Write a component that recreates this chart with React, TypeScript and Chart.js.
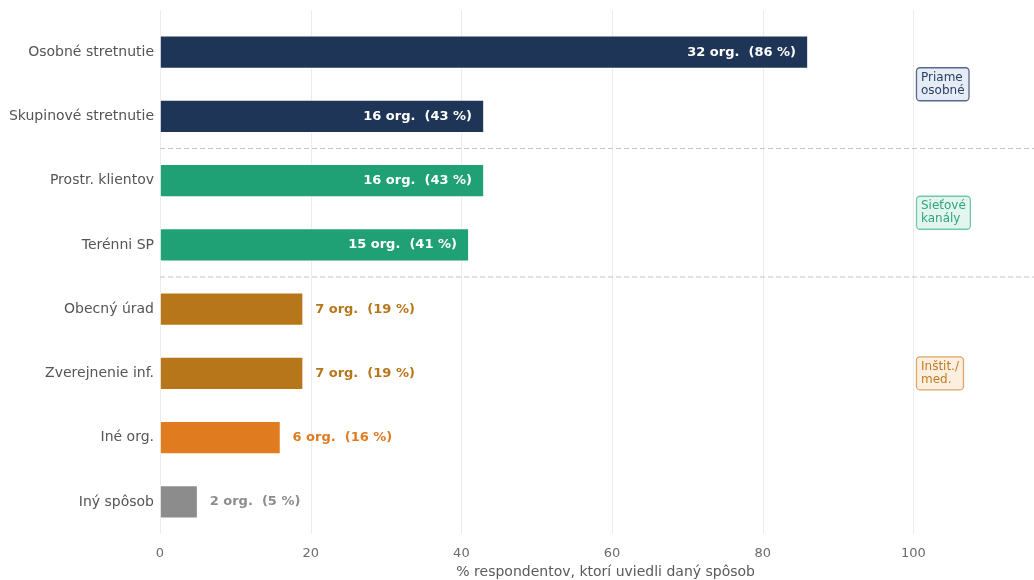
import React, { useEffect, useRef } from "react";
import { Chart, registerables } from "chart.js";

Chart.register(...registerables);

const categories = [
  "Osobné stretnutie",
  "Skupinové stretnutie",
  "Prostr. klientov",
  "Terénni SP",
  "Obecný úrad",
  "Zverejnenie inf.",
  "Iné org.",
  "Iný spôsob",
];
const percents = [86, 43, 43, 41, 19, 19, 16, 5];
const counts = [32, 16, 16, 15, 7, 7, 6, 2];
const barColors = ["#1f3557", "#1f3557", "#20a075", "#20a075", "#b8761a", "#b8761a", "#e07b20", "#8c8c8c"];
const insideLabel = [true, true, true, true, false, false, false, false];
const xTicks = [0, 20, 40, 60, 80, 100];
const xTitle = "% respondentov, ktorí uviedli daný spôsob";
const separatorsAfter = [1, 3];
const groups = [
  { lines: ["Priame", "osobné"], from: 0, to: 1, text: "#263f63", fill: "#e6ecf5", border: "#56688a" },
  { lines: ["Sieťové", "kanály"], from: 2, to: 3, text: "#2fa57b", fill: "#e2f5ee", border: "#72c9a8" },
  { lines: ["Inštit./", "med."], from: 4, to: 6, text: "#c07d22", fill: "#fcefdf", border: "#dca664" },
];

const FONT = "'DejaVu Sans', sans-serif";

export default function App() {
  const ref = useRef<HTMLCanvasElement | null>(null);
  useEffect(() => {
    document.body.style.margin = "0";
    const canvas = ref.current;
    if (!canvas) return;

    const overlay = {
      id: "overlay",
      beforeDatasetsDraw(chart: any) {
        const { ctx, chartArea, scales } = chart;
        const x = scales.x;
        const y = scales.y;
        ctx.save();
        ctx.strokeStyle = "#ececec";
        ctx.lineWidth = 1;
        xTicks.forEach((t) => {
          const px = Math.round(x.getPixelForValue(t)) + 0.5;
          ctx.beginPath();
          ctx.moveTo(px, chartArea.top - 10);
          ctx.lineTo(px, chartArea.bottom);
          ctx.stroke();
        });
        ctx.strokeStyle = "#c4c4c4";
        ctx.lineWidth = 1.2;
        ctx.setLineDash([5, 3]);
        separatorsAfter.forEach((i) => {
          const py = (y.getPixelForValue(i) + y.getPixelForValue(i + 1)) / 2;
          ctx.beginPath();
          ctx.moveTo(chartArea.left, py);
          ctx.lineTo(chart.width, py);
          ctx.stroke();
        });
        ctx.setLineDash([]);
        // x axis title, centred on the full (uncropped) axis span
        ctx.font = `14px ${FONT}`;
        ctx.fillStyle = "#5a5a5a";
        ctx.textAlign = "center";
        ctx.textBaseline = "middle";
        ctx.fillText(xTitle, (x.getPixelForValue(0) + x.getPixelForValue(118.3)) / 2, 572);
        ctx.restore();
      },
      afterDatasetsDraw(chart: any) {
        const { ctx, scales } = chart;
        const x = scales.x;
        const y = scales.y;
        const meta = chart.getDatasetMeta(0);
        ctx.save();
        ctx.font = `bold 13px ${FONT}`;
        ctx.textBaseline = "middle";
        meta.data.forEach((bar: any, i: number) => {
          const label = `${counts[i]} org.  (${percents[i]} %)`;
          if (insideLabel[i]) {
            ctx.fillStyle = "#ffffff";
            ctx.textAlign = "right";
            ctx.fillText(label, bar.x - 12, bar.y);
          } else {
            ctx.fillStyle = barColors[i];
            ctx.textAlign = "left";
            ctx.fillText(label, bar.x + 12, bar.y);
          }
        });
        ctx.font = `12px ${FONT}`;
        ctx.textAlign = "left";
        groups.forEach((g) => {
          const cy = (y.getPixelForValue(g.from) + y.getPixelForValue(g.to)) / 2;
          const tx = x.getPixelForValue(101);
          const lh = 13;
          const w = Math.max(...g.lines.map((l) => ctx.measureText(l).width));
          const h = lh * g.lines.length;
          const bx = tx - 4.5;
          const by = cy - h / 2 - 3.5;
          const bw = w + 9;
          const bh = h + 7;
          ctx.beginPath();
          ctx.roundRect(bx, by, bw, bh, 3.5);
          ctx.fillStyle = g.fill;
          ctx.fill();
          ctx.lineWidth = 1.3;
          ctx.strokeStyle = g.border;
          ctx.stroke();
          ctx.fillStyle = g.text;
          g.lines.forEach((l, k) => {
            ctx.fillText(l, tx, cy - h / 2 + lh / 2 + k * lh);
          });
        });
        ctx.restore();
      },
    };

    const chart = new Chart(canvas, {
      type: "bar",
      data: {
        labels: categories,
        datasets: [
          {
            data: percents,
            backgroundColor: barColors,
            borderColor: "rgba(255,255,255,0.7)",
            borderWidth: 0.8,
            borderSkipped: false,
            barPercentage: 0.515,
            categoryPercentage: 1,
          },
        ],
      },
      options: {
        indexAxis: "y",
        animation: false,
        responsive: false,
        maintainAspectRatio: false,
        layout: { padding: { top: 20, right: 0, left: 0, bottom: 0 } },
        plugins: { legend: { display: false }, tooltip: { enabled: false } },
        scales: {
          x: {
            type: "linear",
            min: 0,
            max: 116,
            afterBuildTicks: (scale: any) => {
              scale.ticks = xTicks.map((v) => ({ value: v }));
            },
            afterFit: (scale: any) => {
              scale.height = 46;
            },
            grid: { display: false, drawTicks: false },
            border: { display: false },
            ticks: {
              padding: 12,
              color: "#6b6b6b",
              font: { family: FONT, size: 13 },
            },
            title: { display: false },
          },
          y: {
            type: "category",
            afterFit: (scale: any) => {
              scale.width = 160;
            },
            grid: { display: false, drawTicks: false },
            border: { display: false },
            ticks: {
              padding: 6,
              color: "#555555",
              font: { family: FONT, size: 14 },
            },
          },
        },
      },
      plugins: [overlay],
    });
    return () => chart.destroy();
  }, []);

  return (
    <div style={{ width: 1034, height: 580, background: "#fff" }}>
      <canvas ref={ref} width={1034} height={580} style={{ display: "block" }} />
    </div>
  );
}
